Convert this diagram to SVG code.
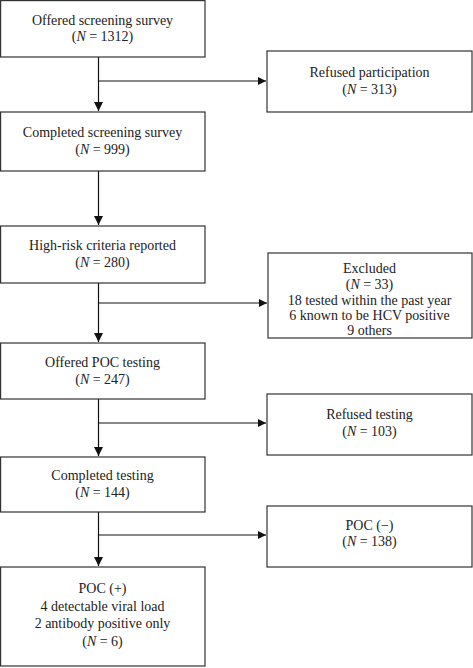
<svg xmlns="http://www.w3.org/2000/svg" width="473" height="668" viewBox="0 0 473 668">
<style>
.box{fill:#fff;stroke:#333;stroke-width:1.2}
.t{font-family:"Liberation Serif",serif;font-size:14px;fill:#222;text-anchor:middle}
.ln{stroke:#111;stroke-width:1.2;fill:none}
</style>
<defs>
<marker id="ah" viewBox="0 0 10 10" refX="10" refY="5" markerWidth="8" markerHeight="8" markerUnits="userSpaceOnUse" orient="auto">
<path d="M0,0 L10,5 L0,10 Z" fill="#111"/>
</marker>
<marker id="av" viewBox="0 0 10 10" refX="10" refY="5" markerWidth="9" markerHeight="9" markerUnits="userSpaceOnUse" orient="auto">
<path d="M0,0 L10,5 L0,10 Z" fill="#111"/>
</marker>
</defs>
<rect width="473" height="668" fill="#fff"/>
<g id="connectors">
<line class="ln" x1="98.5" y1="57" x2="98.5" y2="111" marker-end="url(#av)"/>
<line class="ln" x1="98.5" y1="81" x2="266" y2="81" marker-end="url(#ah)"/>
<line class="ln" x1="98.5" y1="171" x2="98.5" y2="225" marker-end="url(#av)"/>
<line class="ln" x1="98.5" y1="283" x2="98.5" y2="342" marker-end="url(#av)"/>
<line class="ln" x1="98.5" y1="303" x2="267" y2="303" marker-end="url(#ah)"/>
<line class="ln" x1="98.5" y1="399" x2="98.5" y2="456" marker-end="url(#av)"/>
<line class="ln" x1="98.5" y1="423" x2="266" y2="423" marker-end="url(#ah)"/>
<line class="ln" x1="98.5" y1="512" x2="98.5" y2="566" marker-end="url(#av)"/>
<line class="ln" x1="98.5" y1="535" x2="266" y2="535" marker-end="url(#ah)"/>
</g>
<g id="n1"><rect class="box" x="0.6" y="0.6" width="204.4" height="56.4"/>
<text class="t" x="102.5" y="25">Offered screening survey</text>
<text class="t" x="102.5" y="41">(<tspan font-style="italic">N</tspan> = 1312)</text></g>
<g id="n2"><rect class="box" x="267" y="51" width="205" height="61"/>
<text class="t" x="369.5" y="77">Refused participation</text>
<text class="t" x="369.5" y="94">(<tspan font-style="italic">N</tspan> = 313)</text></g>
<g id="n3"><rect class="box" x="0.6" y="112" width="204.4" height="59"/>
<text class="t" x="102.5" y="137">Completed screening survey</text>
<text class="t" x="102.5" y="154">(<tspan font-style="italic">N</tspan> = 999)</text></g>
<g id="n4"><rect class="box" x="0.6" y="226" width="204.4" height="57"/>
<text class="t" x="102.5" y="250">High-risk criteria reported</text>
<text class="t" x="102.5" y="267">(<tspan font-style="italic">N</tspan> = 280)</text></g>
<g id="n5"><rect class="box" x="268" y="253" width="204" height="85"/>
<text class="t" x="369.5" y="273">Excluded</text>
<text class="t" x="369.5" y="289">(<tspan font-style="italic">N</tspan> = 33)</text>
<text class="t" x="369.5" y="304.5">18 tested within the past year</text>
<text class="t" x="369.5" y="320">6 known to be HCV positive</text>
<text class="t" x="369.5" y="335">9 others</text></g>
<g id="n6"><rect class="box" x="0.6" y="343" width="204.4" height="56"/>
<text class="t" x="102.5" y="367">Offered POC testing</text>
<text class="t" x="102.5" y="384">(<tspan font-style="italic">N</tspan> = 247)</text></g>
<g id="n7"><rect class="box" x="267" y="394" width="205" height="61"/>
<text class="t" x="369.5" y="419">Refused testing</text>
<text class="t" x="369.5" y="436">(<tspan font-style="italic">N</tspan> = 103)</text></g>
<g id="n8"><rect class="box" x="0.6" y="457" width="204.4" height="55"/>
<text class="t" x="102.5" y="480">Completed testing</text>
<text class="t" x="102.5" y="497">(<tspan font-style="italic">N</tspan> = 144)</text></g>
<g id="n9"><rect class="box" x="267" y="506" width="205" height="61"/>
<text class="t" x="369.5" y="530">POC (−)</text>
<text class="t" x="369.5" y="546">(<tspan font-style="italic">N</tspan> = 138)</text></g>
<g id="n10"><rect class="box" x="0.6" y="567" width="204.4" height="99"/>
<text class="t" x="102.5" y="593">POC (+)</text>
<text class="t" x="102.5" y="611">4 detectable viral load</text>
<text class="t" x="102.5" y="628">2 antibody positive only</text>
<text class="t" x="102.5" y="646">(<tspan font-style="italic">N</tspan> = 6)</text></g>
</svg>
